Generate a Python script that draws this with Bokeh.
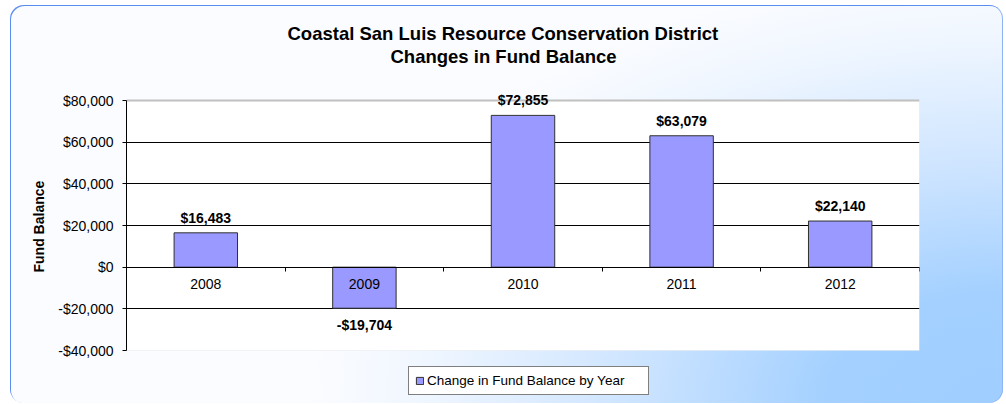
from bokeh.plotting import figure
from bokeh.models import (Range1d, LinearAxis, FixedTicker, NumeralTickFormatter, Title,
                          Legend, LegendItem, ColumnDataSource, Grid, BoxAnnotation)
from bokeh.core.properties import value, field
from bokeh.embed import file_html
from bokeh.resources import INLINE

# ---- data ----
title_lines = ["Coastal San Luis Resource Conservation District", "Changes in Fund Balance"]
years = ["2008", "2009", "2010", "2011", "2012"]
balance = [16483, -19704, 72855, 63079, 22140]
y_ticks = [-40000, -20000, 0, 20000, 40000, 60000, 80000]
y_label = "Fund Balance"
series_name = "Change in Fund Balance by Year"

FONT = "Liberation Sans"
n = len(years)
centers = [i + 0.5 for i in range(n)]
bounds = list(range(n + 1))
# view padding (in value units) so the top data label and the legend fit in the frame
y_head = 2880
y_foot = 23040


def fmt(v):
    return ("-" if v < 0 else "") + "${:,}".format(abs(v))


src = ColumnDataSource(dict(
    x=centers, top=balance, zero=[0] * n, year=years,
    label=[fmt(v) for v in balance],
    yoff=[-7 if v >= 0 else 9 for v in balance],
    base=["bottom" if v >= 0 else "top" for v in balance],
))

p = figure(width=993, height=398, output_backend="svg", toolbar_location=None,
           x_range=Range1d(0, n), y_range=Range1d(y_ticks[0] - y_foot, y_ticks[-1] + y_head),
           x_axis_type=None, y_axis_type=None,
           min_border_left=116, min_border_right=84, min_border_top=89, min_border_bottom=5)
p.title.visible = False
p.border_fill_color = None
p.background_fill_color = None
p.outline_line_color = None
p.styles = {
    "margin-left": "10px",
    "margin-top": "5px",
    "background": "radial-gradient(ellipse 70% 110% at 100% 100%, #9fceff 0%, #a3d0ff 25%, "
                  "#cfe5ff 55%, #f1f7ff 85%, #fbfcff 100%)",
    "border-radius": "14px",
    "box-shadow": "inset 1px 1px 0 0 #5b8def, inset -1px 0 0 0 #8fb4f5",
}

# white plot area
p.add_layout(BoxAnnotation(left=0, right=n, bottom=y_ticks[0], top=y_ticks[-1],
                           fill_color="white", fill_alpha=1, line_color="#dadada",
                           line_width=1, level="underlay"))

# title: spacer + two lines stacked outward from the frame
p.add_layout(Title(text=" ", text_font_size="1px", standoff=25), "above")
p.add_layout(Title(text=title_lines[1], align="left", offset=264, text_font=FONT,
                   text_font_size="18.5px", text_font_style="bold", text_color="black",
                   standoff=0), "above")
p.add_layout(Title(text=title_lines[0], align="left", offset=161, text_font=FONT,
                   text_font_size="18.5px", text_font_style="bold", text_color="black",
                   standoff=0), "above")

# y axis
yaxis = LinearAxis(ticker=FixedTicker(ticks=y_ticks), formatter=NumeralTickFormatter(format="$0,0"),
                   bounds=(y_ticks[0], y_ticks[-1]),
                   major_label_text_font=FONT, major_label_text_font_size="14px",
                   major_label_text_color="black",
                   major_label_standoff=9, major_tick_out=4, major_tick_in=0,
                   minor_tick_line_color=None, axis_line_color="black", major_tick_line_color="black")
p.add_layout(yaxis, "left")

# y axis title, centred on the plot area (not on the padded frame)
p.add_layout(Title(text=y_label, align="left", offset=126, vertical_align="bottom", text_font=FONT,
                   text_font_size="14px", text_font_style="bold", text_color="black",
                   standoff=18), "left")

# grid
p.add_layout(Grid(dimension=1, ticker=FixedTicker(ticks=y_ticks[1:-1]),
                  grid_line_color="black", grid_line_width=1))
p.add_layout(Grid(dimension=1, ticker=FixedTicker(ticks=y_ticks[-1:]),
                  grid_line_color="#c0c0c0", grid_line_width=2))

# x axis line at zero with boundary ticks
xt = LinearAxis(ticker=FixedTicker(ticks=bounds), fixed_location=0, major_tick_out=4, major_tick_in=0,
                major_label_text_color=None, major_label_text_font_size="0px", major_label_standoff=0,
                axis_line_color="black", major_tick_line_color="black", minor_tick_line_color=None)
p.add_layout(xt, "below")

# bars
r = p.vbar(x="x", top="top", bottom=0, width=0.4, source=src,
           fill_color="#9999ff", line_color="#303030", line_width=1)

# year labels (category labels under the zero line)
p.text(x="x", y="zero", text="year", source=src, y_offset=17, text_baseline="middle",
       text_align="center", text_font=value(FONT), text_font_size="14px", text_color="black")

# data labels
p.text(x="x", y="top", text="label", source=src, y_offset="yoff", text_baseline=field("base"),
       text_align="center", text_font=value(FONT), text_font_style="bold",
       text_font_size="14px", text_color="black")

legend = Legend(items=[LegendItem(label=series_name, renderers=[r])], location=(282, 3),
                orientation="horizontal", border_line_color="black", border_line_width=1,
                background_fill_color="white", background_fill_alpha=1,
                label_text_font=FONT, label_text_font_size="13.5px", label_text_color="black",
                glyph_width=9, glyph_height=9, label_standoff=3, padding=6, margin=0,
                label_height=14, label_width=215)
p.add_layout(legend)

open("out.html", "w").write(file_html(p, INLINE))
